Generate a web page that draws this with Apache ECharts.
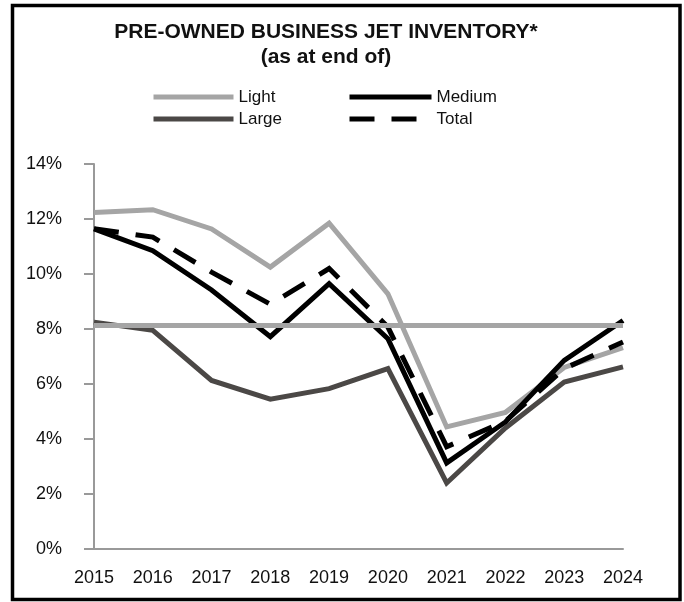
<!DOCTYPE html>
<html>
<head>
<meta charset="utf-8">
<script src="https://cdn.jsdelivr.net/npm/echarts@6/dist/echarts.min.js"></script>
<style>
html,body{margin:0;padding:0;background:#fff;}
#chart{width:684px;height:602px;}
</style>
</head>
<body>
<div id="chart"></div>
<script>
const years = ['2015','2016','2017','2018','2019','2020','2021','2022','2023','2024'];
const light  = [12.24, 12.34, 11.64, 10.25, 11.85, 9.28, 4.44, 4.97, 6.60, 7.32];
const large  = [8.25, 7.95, 6.13, 5.45, 5.83, 6.56, 2.40, 4.40, 6.07, 6.62];
const medium = [11.64, 10.85, 9.42, 7.72, 9.65, 7.65, 3.13, 4.62, 6.86, 8.31];
const total  = [11.65, 11.34, 10.07, 8.90, 10.20, 8.07, 3.72, 4.65, 6.56, 7.53];
const referenceLevel = 8.13;
const yTicks = {min: 0, max: 14, interval: 2};

const FONT = 'Liberation Sans, Arial, sans-serif';
const chart = echarts.init(document.getElementById('chart'), null, {renderer: 'canvas'});
const lineBase = {type: 'line', symbol: 'none', showSymbol: false, smooth: false, animation: false};
const legendBase = {
  orient: 'vertical', top: 88, padding: 0,
  itemHeight: 18, itemGap: 4,
  itemStyle: {opacity: 0, borderWidth: 0},
  lineStyle: {width: 5},
  textStyle: {fontFamily: FONT, fontSize: 17, color: '#111', lineHeight: 18}
};

chart.setOption({
  backgroundColor: '#fff',
  title: {
    text: 'PRE-OWNED BUSINESS JET INVENTORY*\n(as at end of)',
    left: 326, top: 20, padding: 0, textAlign: 'center',
    textStyle: {fontFamily: FONT, fontSize: 21, fontWeight: 'bold', color: '#111', lineHeight: 25}
  },
  legend: [
    Object.assign({}, legendBase, {data: ['Light', 'Large'], left: 151, itemWidth: 80}),
    Object.assign({}, legendBase, {data: ['Medium', 'Total'], left: 347, itemWidth: 82})
  ],
  grid: {left: 94, right: 61, top: 164, bottom: 53, containLabel: false},
  xAxis: {
    type: 'category', data: years, boundaryGap: false,
    axisLine: {lineStyle: {color: '#999', width: 2}},
    axisTick: {show: false},
    axisLabel: {fontFamily: FONT, fontSize: 18, color: '#111', margin: 20}
  },
  yAxis: {
    type: 'value', min: yTicks.min, max: yTicks.max, interval: yTicks.interval,
    axisLine: {show: true, lineStyle: {color: '#999', width: 2}},
    axisTick: {show: true, length: 10, lineStyle: {color: '#999', width: 2}},
    splitLine: {show: false},
    axisLabel: {fontFamily: FONT, fontSize: 18, color: '#111', margin: 32, formatter: '{value}%'}
  },
  graphic: [{
    type: 'rect', silent: true, z: 100,
    shape: {x: 12.5, y: 5.5, width: 667.5, height: 594},
    style: {fill: 'none', stroke: '#000', lineWidth: 3.5}
  }],
  series: [
    Object.assign({}, lineBase, {
      name: 'Large', data: large, z: 2,
      lineStyle: {color: '#4b4846', width: 5, join: 'miter'}, itemStyle: {color: '#4b4846'}
    }),
    Object.assign({}, lineBase, {
      name: 'Light', data: light, z: 3,
      lineStyle: {color: '#a5a5a5', width: 5, join: 'miter'}, itemStyle: {color: '#a5a5a5'}
    }),
    Object.assign({}, lineBase, {
      name: 'Medium', data: medium, z: 4,
      lineStyle: {color: '#000', width: 5, join: 'miter'}, itemStyle: {color: '#000'}
    }),
    Object.assign({}, lineBase, {
      name: 'Total', data: total, z: 5,
      lineStyle: {color: '#000', width: 5, type: [25, 17], join: 'miter'}, itemStyle: {color: '#000'},
      markLine: {
        silent: true, symbol: 'none', z: 6, animation: false,
        label: {show: false},
        lineStyle: {color: '#a5a5a5', width: 5, type: 'solid'},
        data: [{yAxis: referenceLevel}]
      }
    })
  ]
});
</script>
</body>
</html>
